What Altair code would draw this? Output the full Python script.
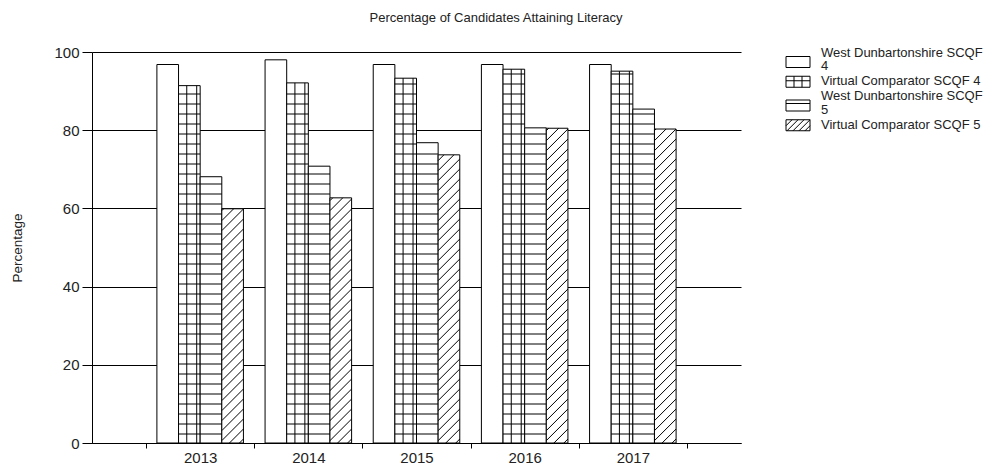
import altair as alt
import pandas as pd

# ---------------- data ----------------
years = ["2013", "2014", "2015", "2016", "2017"]
series = [
    "West Dunbartonshire SCQF 4",
    "Virtual Comparator SCQF 4",
    "West Dunbartonshire SCQF 5",
    "Virtual Comparator SCQF 5",
]
wd_scqf4 = [96.8, 98.0, 96.8, 96.8, 96.8]
vc_scqf4 = [91.4, 92.1, 93.3, 95.6, 95.1]
wd_scqf5 = [68.1, 70.8, 76.8, 80.6, 85.4]
vc_scqf5 = [59.9, 62.7, 73.7, 80.5, 80.3]
y_ticks = [0, 20, 40, 60, 80, 100]
chart_title = "Percentage of Candidates Attaining Literacy"
y_title = "Percentage"

# ---------------- layout / style ----------------
W, H = 649, 391
OX, OY = 92, 52                      # plot origin in the page
PAD = {"left": OX, "top": OY, "right": 992 - OX - W, "bottom": 471 - OY - H}
FONT = "Liberation Sans"
TXT = "#222222"
XMAX = len(years) + 1
GROUP = 0.8
BW = GROUP / len(series)
PX_X = W / XMAX          # pixels per x unit
PX_Y = H / 100.0         # pixels per y unit

values_by_series = [wd_scqf4, vc_scqf4, wd_scqf5, vc_scqf5]

rows = []
for i, yr in enumerate(years):
    for s, name in enumerate(series):
        v = values_by_series[s][i]
        x0 = i + 1 - GROUP / 2 + s * BW
        rows.append(dict(year=yr, series=name, sidx=s, value=v,
                         x0=x0, x1=x0 + BW))
bars = pd.DataFrame(rows)

# ---------------- fill patterns (decoration derived from bars) ----------------
segs = []
hstep = 10 / PX_Y
hphase = 9 / PX_Y
for r in rows:
    v, x0, x1, s = r["value"], r["x0"], r["x1"], r["sidx"]
    if s in (1, 2):  # horizontal lines (grid + horizontal pattern)
        lvl = hphase
        while lvl < v - 1.5 / PX_Y:
            segs.append(dict(xa=x0, xb=x1, ya=lvl, yb=lvl))
            lvl += hstep
    if s == 1:  # vertical lines of the grid pattern
        for f in (0.38, 0.84):
            segs.append(dict(xa=x0 + f * BW, xb=x0 + f * BW, ya=0, yb=v))
    if s == 3:  # diagonal hatch "/"
        R = BW * PX_X / PX_Y
        c = -R + 4 / PX_Y
        while c < v:
            t0 = max(0.0, -c / R)
            t1 = min(1.0, (v - c) / R)
            if t1 > t0:
                segs.append(dict(xa=x0 + t0 * BW, ya=c + t0 * R,
                                 xb=x0 + t1 * BW, yb=c + t1 * R))
            c += hstep
patterns = pd.DataFrame(segs)

# ---------------- hand-built legend (patterned swatches) ----------------
LINE_H = 13.5
SW_X0, SW_X1, SW_H = 786 - OX, 810 - OX, 11
TEXT_X = 821 - OX
sw_rows, sw_lines, lab_rows = [], [], []
ytop = 46 - OY
for s, name in enumerate(series):
    head, _, tail = name.rpartition(" ")
    lines = [head, tail] if len(name) > 25 else [name]
    block_h = LINE_H * len(lines)
    cy = ytop + block_h / 2 + (2.5 if len(lines) > 1 else 0.5)
    y0, y1 = cy - SW_H / 2, cy + SW_H / 2
    sw_rows.append(dict(series=name, a=SW_X0, b=SW_X1, c=y0, d=y1))
    for k, ln in enumerate(lines):
        lab_rows.append(dict(series=name, label=ln, tx=TEXT_X,
                             ty=ytop + LINE_H * (k + 0.5)))
    if s == 1:
        for dx in (8, 16):
            sw_lines.append(dict(a=SW_X0 + dx, b=SW_X0 + dx, c=y0, d=y1))
        sw_lines.append(dict(a=SW_X0, b=SW_X1, c=cy - 1, d=cy - 1))
    if s == 2:
        sw_lines.append(dict(a=SW_X0, b=SW_X1, c=cy - 2, d=cy - 2))
    if s == 3:
        for off in range(-SW_H, SW_X1 - SW_X0, 6):
            xa, ya = SW_X0 + off, y1
            xb, yb = xa + SW_H, y0
            if xa < SW_X0:
                ya -= SW_X0 - xa
                xa = SW_X0
            if xb > SW_X1:
                yb += xb - SW_X1
                xb = SW_X1
            if xb > xa:
                sw_lines.append(dict(a=xa, b=xb, c=ya, d=yb))
    ytop += block_h + 1.5
legend_sw = pd.DataFrame(sw_rows)
legend_ln = pd.DataFrame(sw_lines)
legend_lab = pd.DataFrame(lab_rows)

# ---------------- scales / axes ----------------
xscale = alt.Scale(domain=[0, XMAX], nice=False, zero=False)
yscale = alt.Scale(domain=[0, 100], nice=False)

year_arr = "[" + ",".join("'%s'" % y for y in years) + ",'']"
x_axis = alt.Axis(
    values=[i + 0.5 for i in range(len(years) + 1)],
    labelExpr=f"{year_arr}[round(datum.value - 0.5)]",
    labelOffset=PX_X / 2, labelFlush=False, labelOverlap=False,
    tickSize=5, tickColor="black", domainColor="black", grid=False,
    labelFont=FONT, labelFontSize=15, labelColor=TXT, labelPadding=2,
    title=None,
)
y_axis = alt.Axis(
    values=y_ticks, grid=True, gridColor="black", gridOpacity=1, gridWidth=1,
    domainColor="black", tickColor="black", tickSize=10,
    labelFont=FONT, labelFontSize=15, labelColor=TXT, labelPadding=3,
    title=y_title, titleFont=FONT, titleFontSize=13.5, titleFontWeight="normal",
    titleColor=TXT, titleX=-75, titleY=H / 2, titleAngle=270,
    titleBaseline="middle", titleAlign="center",
)

bar_layer = alt.Chart(bars).mark_bar(
    fill="white", stroke="black", strokeWidth=1
).encode(
    x=alt.X("x0:Q", scale=xscale, axis=x_axis),
    x2="x1:Q",
    y=alt.Y("value:Q", scale=yscale, axis=y_axis),
    y2=alt.datum(0),
)

pattern_layer = alt.Chart(patterns).mark_rule(
    color="black", strokeWidth=1
).encode(
    x=alt.X("xa:Q", scale=xscale),
    x2="xb:Q",
    y=alt.Y("ya:Q", scale=yscale),
    y2="yb:Q",
)

leg_rect = alt.Chart(legend_sw).mark_rect(
    fill="white", stroke="black", strokeWidth=1
).encode(
    x=alt.X("a:Q", scale=None), x2="b:Q",
    y=alt.Y("c:Q", scale=None), y2="d:Q",
)
leg_lines = alt.Chart(legend_ln).mark_rule(color="black", strokeWidth=1).encode(
    x=alt.X("a:Q", scale=None), x2="b:Q",
    y=alt.Y("c:Q", scale=None), y2="d:Q",
)
leg_text = alt.Chart(legend_lab).mark_text(
    align="left", baseline="middle", font=FONT, fontSize=13, color=TXT,
).encode(
    x=alt.X("tx:Q", scale=None),
    y=alt.Y("ty:Q", scale=None),
    text="label:N",
)

chart = alt.layer(bar_layer, pattern_layer, leg_rect, leg_lines, leg_text).properties(
    width=W, height=H,
    title=alt.Title(chart_title, font=FONT, fontSize=13, fontWeight="normal",
                    color=TXT, anchor="middle", dx=496 - (OX + W / 2), offset=20),
    padding=PAD,
    autosize=alt.AutoSizeParams(type="none"),
    background="white",
).configure_view(stroke=None)

chart.save("out.html", embed_options={"renderer": "svg", "actions": False})
